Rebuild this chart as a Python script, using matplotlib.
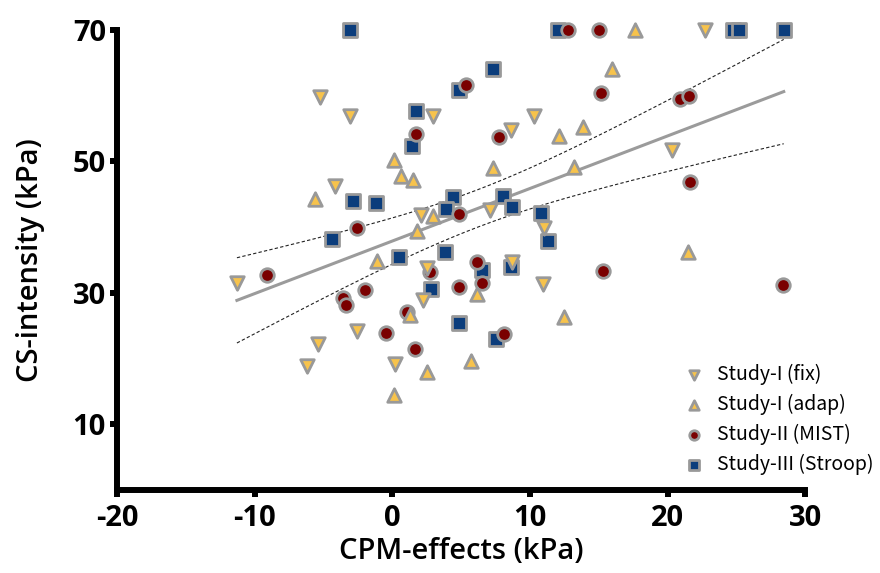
import numpy as np
import matplotlib.pyplot as plt

# Study-I (fix)
fix_x = [22.75, -5.28, -3.10, 2.93, 10.32, 8.63, 20.33, -4.19, 2.09, 7.12,
         11.05, -11.29, 2.52, 2.23, -2.57, -5.38, -6.20, 0.22, 10.92, 8.70]
fix_y = [70.0, 59.76, 56.92, 56.92, 56.96, 54.79, 51.74, 46.26, 41.90, 42.61,
         39.92, 31.55, 33.74, 28.91, 24.24, 22.17, 18.87, 19.18, 31.30, 34.74]

# Study-I (adap)
adap_x = [15.94, 17.64, 12.14, 13.83, 13.23, 12.45, 21.51, 7.32, 0.09, 0.60,
          1.50, -5.60, 2.93, 1.82, -1.09, 1.31, 6.13, 2.52, 5.72, 0.12]
adap_y = [64.07, 70.0, 53.77, 55.20, 49.20, 26.28, 36.27, 49.05, 50.22, 47.83,
          47.18, 44.29, 41.70, 39.42, 34.85, 26.63, 29.78, 18.00, 19.68, 14.46]

# Study-II (MIST)
mist_x = [12.74, 15.04, 5.33, 1.72, 7.73, 15.14, 20.93, 21.56, 21.66, 4.82,
          -2.59, -9.11, 2.71, 6.13, 6.52, 4.82, -1.98, -3.58, -3.39, 1.07,
          -0.46, 1.62, 15.31, 28.37, 8.14]
mist_y = [70.0, 70.0, 61.63, 54.13, 53.67, 60.37, 59.46, 59.96, 46.77, 41.96,
          39.92, 32.67, 33.13, 34.65, 31.55, 30.94, 30.44, 29.17, 28.11, 27.13,
          23.94, 21.46, 33.33, 31.24, 23.69]

# Study-III (Stroop)
stroop_x = [-3.10, 12.01, 24.76, 25.17, 28.44, 7.32, 4.85, 1.72, 1.40, -2.89,
            -1.18, 4.43, 3.90, 8.02, 8.72, 10.83, 11.32, -4.38, 3.83, 0.51,
            6.52, 2.81, 8.63, 4.85, 7.54]
stroop_y = [70.0, 70.0, 70.0, 70.0, 70.0, 64.07, 60.87, 57.68, 52.35, 43.98,
            43.72, 44.59, 42.81, 44.64, 43.07, 42.20, 37.94, 38.24, 36.27, 35.41,
            33.48, 30.54, 33.98, 25.37, 22.93]

plt.rcParams['font.family'] = ['Open Sans', 'DejaVu Sans']
plt.rcParams['axes.unicode_minus'] = False

fig = plt.figure(figsize=(8.8, 5.73), dpi=100)
ax = fig.add_axes([0.133, 0.145, 0.782, 0.803])

# linear regression with 95% confidence band over all studies
X = np.array(fix_x + adap_x + mist_x + stroop_x)
Y = np.array(fix_y + adap_y + mist_y + stroop_y)
n = len(X)
slope, icpt = np.polyfit(X, Y, 1)
resid = Y - (slope * X + icpt)
s = np.sqrt(np.sum(resid ** 2) / (n - 2))
xm = X.mean()
sxx = np.sum((X - xm) ** 2)
xs = np.linspace(X.min(), X.max(), 200)
ys = slope * xs + icpt
half = 1.987 * s * np.sqrt(1 / n + (xs - xm) ** 2 / sxx)

ax.plot(xs, ys, color='#9b9b9b', lw=2.2, zorder=1)
ax.plot(xs, ys + half, color='#222222', lw=0.8, ls=(0, (3, 2)), zorder=1)
ax.plot(xs, ys - half, color='#222222', lw=0.8, ls=(0, (3, 2)), zorder=1)

edge = '#999999'
kw = dict(s=95, edgecolors=edge, linewidths=2, clip_on=False)
h4 = ax.scatter(stroop_x, stroop_y, marker='s', c='#0b3d7c', zorder=3, **kw)
h3 = ax.scatter(mist_x, mist_y, marker='o', c='#7a0000', zorder=4, **kw)
h2 = ax.scatter(adap_x, adap_y, marker='^', c='#f7c34c', zorder=5, **kw)
h1 = ax.scatter(fix_x, fix_y, marker='v', c='#f7c34c', zorder=6, **kw)

ax.set_xlim(-20, 30)
ax.set_ylim(0, 70)
ax.set_xticks([-20, -10, 0, 10, 20, 30])
ax.set_yticks([10, 30, 50, 70])
ax.spines['top'].set_visible(False)
ax.spines['right'].set_visible(False)
ax.spines['left'].set_linewidth(4.3)
ax.spines['bottom'].set_linewidth(4.3)
ax.tick_params(width=4.3, length=5, labelsize=21, pad=3)
ax.tick_params(axis='x', pad=5)
for lab in ax.get_xticklabels() + ax.get_yticklabels():
    lab.set_fontweight('bold')

ax.set_xlabel('CPM-effects (kPa)', fontsize=21, fontweight='semibold', labelpad=3)
ax.set_ylabel('CS-intensity (kPa)', fontsize=21, fontweight='semibold', labelpad=20)

leg = ax.legend([h1, h2, h3, h4],
                ['Study-I (fix)', 'Study-I (adap)', 'Study-II (MIST)', 'Study-III (Stroop)'],
                loc='lower right', bbox_to_anchor=(1.125, -0.005), frameon=False,
                prop={'family': ['Noto Sans CJK KR', 'DejaVu Sans'], 'size': 14},
                handletextpad=0.2, labelspacing=0.45, markerscale=0.7)

fig.savefig('out.png', dpi=100)
